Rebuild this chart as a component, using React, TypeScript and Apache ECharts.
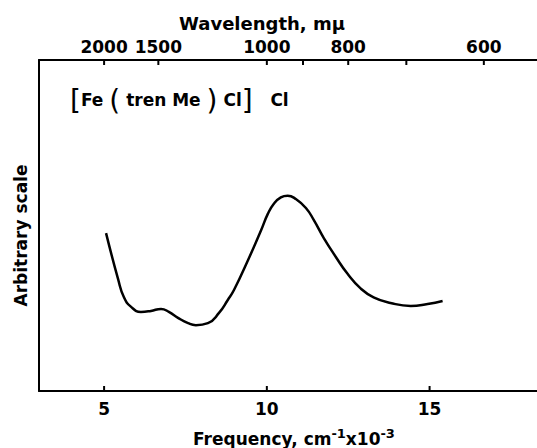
import React, { useEffect, useRef } from "react";
import * as echarts from "echarts";

// Frequency (cm^-1 x 10^-3) vs arbitrary absorbance
const frequency = [5.06, 5.43, 5.61, 5.83, 6.13, 6.44, 6.75, 6.99, 7.27, 7.58, 7.82, 8.19, 8.53, 8.8, 8.99, 9.42, 9.82, 10.03, 10.21, 10.43, 10.64, 10.89, 11.2, 11.44, 11.75, 12.12, 12.48, 12.88, 13.28, 13.8, 14.42, 14.94, 15.4];
const absorbance = [47.7, 33.8, 28.3, 25.4, 23.9, 24.2, 24.8, 23.9, 22.1, 20.5, 19.9, 20.5, 23.6, 27.5, 30.5, 39.5, 48.5, 53.5, 56.5, 58.5, 59.0, 58.0, 55.3, 51.7, 46.2, 40.5, 35.4, 31.0, 28.3, 26.6, 25.7, 26.3, 27.2];
const frequencyTicks = [5, 10, 15];
const wavelengthLabels = [2000, 1500, 1000, 800, 600];
const wavelengthTicks = [2000, 1500, 1000, 900, 800, 700, 600];

const toFreq = (nm: number) => 10000 / nm;
const FONT = "DejaVu Sans";
const Y_MIN = 0;
const Y_MAX = 100;

export default function App() {
  const ref = useRef<HTMLDivElement>(null);
  useEffect(() => {
    if (!ref.current) return;
    const chart = echarts.init(ref.current, null, { renderer: "svg" });
    const axisLine = { show: true, lineStyle: { color: "#000", width: 2 } };
    const tickSeries = (values: number[], atTop: boolean) => ({
      type: "custom",
      xAxisIndex: 0,
      silent: true,
      clip: false,
      data: values.map((v) => [v, atTop ? Y_MAX : Y_MIN]),
      renderItem: (_p: any, api: any) => {
        const pt = api.coord([api.value(0), api.value(1)]);
        const dy = atTop ? 5 : -5;
        return {
          type: "line",
          shape: { x1: pt[0], y1: pt[1], x2: pt[0], y2: pt[1] + dy },
          style: { stroke: "#000", lineWidth: 2 },
        };
      },
    });
    chart.setOption({
      animation: false,
      backgroundColor: "#fff",
      grid: { left: 39, top: 60, right: 0, bottom: 57 },
      xAxis: [
        {
          type: "value",
          min: 3,
          max: 18.3,
          position: "bottom",
          axisLine,
          axisTick: { show: false },
          axisLabel: { customValues: frequencyTicks, color: "#000", fontFamily: FONT, fontWeight: "bold", fontSize: 17, margin: 9 },
          splitLine: { show: false },
        },
        {
          type: "value",
          min: 3,
          max: 18.3,
          position: "top",
          axisLine,
          axisTick: { show: false },
          axisLabel: {
            customValues: wavelengthLabels.map(toFreq),
            formatter: (v: number) => String(Math.round(10000 / v)),
            color: "#000",
            fontFamily: FONT,
            fontWeight: "bold",
            fontSize: 17,
            margin: 5,
          },
          splitLine: { show: false },
        },
      ],
      yAxis: {
        type: "value",
        min: Y_MIN,
        max: Y_MAX,
        axisLine,
        axisTick: { show: false },
        axisLabel: { show: false },
        splitLine: { show: false },
        name: "Arbitrary scale",
        nameLocation: "middle",
        nameGap: 10,
        nameTextStyle: { color: "#000", fontFamily: FONT, fontWeight: "bold", fontSize: 17, padding: [0, 0, 0, -20] },
      },
      graphic: [
        {
          type: "text",
          x: 262,
          y: 23,
          style: { text: "Wavelength, mμ", fill: "#000", font: `bold 18px "${FONT}"`, align: "center", verticalAlign: "middle" },
        },
        {
          type: "text",
          x: 294,
          y: 437,
          style: {
            text: "{t|Frequency, cm}{s|-1}{t|x10}{s|-3}",
            align: "center",
            verticalAlign: "middle",
            rich: {
              t: { fontFamily: FONT, fontSize: 17, fontWeight: "bold", fill: "#000", color: "#000", verticalAlign: "bottom" },
              s: { fontFamily: FONT, fontSize: 13, fontWeight: "bold", fill: "#000", color: "#000", verticalAlign: "top", padding: [0, 0, 8, 0] },
            },
          },
        },
        {
          type: "text",
          x: 70,
          y: 100,
          style: {
            text: "{b|[}{t|Fe }{b|(}{t| tren Me }{b|)}{t| Cl}{b|]}{t|   Cl}",
            verticalAlign: "middle",
            rich: {
              b: { fontFamily: FONT, fontSize: 28, fill: "#000", color: "#000" },
              t: { fontFamily: FONT, fontSize: 17, fontWeight: "bold", fill: "#000", color: "#000" },
            },
          },
        },
      ],
      series: [
        {
          type: "line",
          xAxisIndex: 0,
          data: frequency.map((f, i) => [f, absorbance[i]]),
          smooth: 0.5,
          symbol: "none",
          lineStyle: { color: "#000", width: 2.5 },
        },
        tickSeries(frequencyTicks, false),
        tickSeries(wavelengthTicks.map(toFreq), true),
      ],
    });
    return () => chart.dispose();
  }, []);
  return <div ref={ref} style={{ position: "fixed", left: 0, top: 0, width: 537, height: 448 }} />;
}
